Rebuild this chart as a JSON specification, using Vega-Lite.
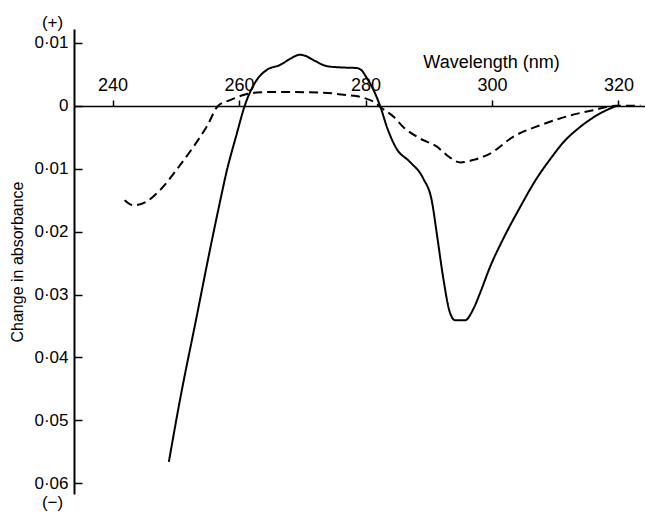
{
  "$schema": "https://vega.github.io/schema/vega-lite/v6.json",
  "width": 571,
  "height": 465,
  "autosize": {"type": "none"},
  "padding": {"left": 74, "top": 29, "right": 0, "bottom": 20},
  "background": "white",
  "config": {
    "view": {"stroke": null},
    "font": "Liberation Sans",
    "axis": {"grid": false, "domainColor": "black", "tickColor": "black", "labelColor": "black", "titleColor": "black", "titleFontWeight": "normal"}
  },
  "datasets": {
    "curves": [
      {"series": "solid", "wl": 248.9, "dA": -0.0566},
      {"series": "solid", "wl": 250.65, "dA": -0.0468},
      {"series": "solid", "wl": 253.3, "dA": -0.0335},
      {"series": "solid", "wl": 255.4, "dA": -0.0229},
      {"series": "solid", "wl": 257.0, "dA": -0.0152},
      {"series": "solid", "wl": 258.0, "dA": -0.0106},
      {"series": "solid", "wl": 259.6, "dA": -0.0046},
      {"series": "solid", "wl": 260.9, "dA": 0.0},
      {"series": "solid", "wl": 262.8, "dA": 0.0041},
      {"series": "solid", "wl": 264.4, "dA": 0.0057},
      {"series": "solid", "wl": 266.5, "dA": 0.0065},
      {"series": "solid", "wl": 268.0, "dA": 0.0074},
      {"series": "solid", "wl": 269.6, "dA": 0.0081},
      {"series": "solid", "wl": 270.6, "dA": 0.0079},
      {"series": "solid", "wl": 271.7, "dA": 0.0073},
      {"series": "solid", "wl": 273.9, "dA": 0.0063},
      {"series": "solid", "wl": 276.0, "dA": 0.0061},
      {"series": "solid", "wl": 278.6, "dA": 0.0060},
      {"series": "solid", "wl": 279.5, "dA": 0.0055},
      {"series": "solid", "wl": 279.9, "dA": 0.0049},
      {"series": "solid", "wl": 281.5, "dA": 0.0020},
      {"series": "solid", "wl": 282.3, "dA": 0.0},
      {"series": "solid", "wl": 283.5, "dA": -0.0037},
      {"series": "solid", "wl": 284.9, "dA": -0.0068},
      {"series": "solid", "wl": 287.0, "dA": -0.0089},
      {"series": "solid", "wl": 289.1, "dA": -0.0115},
      {"series": "solid", "wl": 290.5, "dA": -0.0152},
      {"series": "solid", "wl": 291.3, "dA": -0.0205},
      {"series": "solid", "wl": 292.3, "dA": -0.0274},
      {"series": "solid", "wl": 293.3, "dA": -0.0327},
      {"series": "solid", "wl": 294.2, "dA": -0.0341},
      {"series": "solid", "wl": 295.7, "dA": -0.0341},
      {"series": "solid", "wl": 297.1, "dA": -0.0322},
      {"series": "solid", "wl": 298.1, "dA": -0.0298},
      {"series": "solid", "wl": 299.7, "dA": -0.0256},
      {"series": "solid", "wl": 301.8, "dA": -0.0211},
      {"series": "solid", "wl": 304.4, "dA": -0.0162},
      {"series": "solid", "wl": 307.1, "dA": -0.0115},
      {"series": "solid", "wl": 309.2, "dA": -0.0085},
      {"series": "solid", "wl": 311.3, "dA": -0.0058},
      {"series": "solid", "wl": 313.9, "dA": -0.0034},
      {"series": "solid", "wl": 316.6, "dA": -0.0015},
      {"series": "solid", "wl": 319.7, "dA": 0.0},
      {"series": "dashed", "wl": 241.9, "dA": -0.0150},
      {"series": "dashed", "wl": 243.3, "dA": -0.0158},
      {"series": "dashed", "wl": 245.4, "dA": -0.0152},
      {"series": "dashed", "wl": 247.5, "dA": -0.0134},
      {"series": "dashed", "wl": 250.1, "dA": -0.0102},
      {"series": "dashed", "wl": 252.8, "dA": -0.0065},
      {"series": "dashed", "wl": 254.9, "dA": -0.0033},
      {"series": "dashed", "wl": 256.7, "dA": 0.0},
      {"series": "dashed", "wl": 258.6, "dA": 0.0009},
      {"series": "dashed", "wl": 260.7, "dA": 0.0017},
      {"series": "dashed", "wl": 262.8, "dA": 0.0021},
      {"series": "dashed", "wl": 266.5, "dA": 0.0022},
      {"series": "dashed", "wl": 272.8, "dA": 0.0021},
      {"series": "dashed", "wl": 277.0, "dA": 0.0017},
      {"series": "dashed", "wl": 279.6, "dA": 0.0013},
      {"series": "dashed", "wl": 281.5, "dA": 0.0005},
      {"series": "dashed", "wl": 282.6, "dA": -0.0004},
      {"series": "dashed", "wl": 284.4, "dA": -0.0017},
      {"series": "dashed", "wl": 286.0, "dA": -0.0034},
      {"series": "dashed", "wl": 288.6, "dA": -0.0052},
      {"series": "dashed", "wl": 291.3, "dA": -0.0065},
      {"series": "dashed", "wl": 292.8, "dA": -0.0078},
      {"series": "dashed", "wl": 295.0, "dA": -0.0090},
      {"series": "dashed", "wl": 297.1, "dA": -0.0086},
      {"series": "dashed", "wl": 299.7, "dA": -0.0076},
      {"series": "dashed", "wl": 303.4, "dA": -0.0049},
      {"series": "dashed", "wl": 307.6, "dA": -0.0031},
      {"series": "dashed", "wl": 311.8, "dA": -0.0017},
      {"series": "dashed", "wl": 316.0, "dA": -0.0007},
      {"series": "dashed", "wl": 319.7, "dA": 0.0},
      {"series": "dashed", "wl": 323.5, "dA": 0.0}
    ],
    "signs": [
      {"label": "(+)", "wl": 230.5, "dA": 0.0132},
      {"label": "(−)", "wl": 230.5, "dA": -0.0632}
    ]
  },
  "layer": [
    {
      "data": {"name": "curves"},
      "mark": {"type": "line", "color": "black", "strokeWidth": 2, "interpolate": "monotone", "clip": false},
      "encoding": {
        "x": {
          "field": "wl", "type": "quantitative",
          "scale": {"domain": [233.9, 324.2], "nice": false, "zero": false},
          "axis": {
            "orient": "top", "offset": -77, "values": [240, 260, 280, 300, 320],
            "tickSize": 6, "tickWidth": 1.5, "labelPadding": 6, "labelFontSize": 18,
            "domainWidth": 1.5, "title": "Wavelength (nm)", "titleFontSize": 18,
            "titleX": 417, "titleY": -44, "titleBaseline": "middle", "titleAnchor": null
          }
        },
        "y": {
          "field": "dA", "type": "quantitative",
          "scale": {"domain": [-0.0617, 0.0122], "nice": false, "zero": false},
          "axis": {
            "orient": "left", "values": [0.01, 0, -0.01, -0.02, -0.03, -0.04, -0.05, -0.06],
            "labelExpr": "abs(datum.value) < 1e-9 ? '0' : replace(format(abs(datum.value), '.2f'), '.', '·')",
            "tickSize": -8, "tickWidth": 1.5, "labelPadding": 14, "labelFontSize": 17,
            "domainWidth": 2, "title": "Change in absorbance", "titleFontSize": 16, "titlePadding": 8
          }
        },
        "strokeDash": {
          "field": "series", "type": "nominal",
          "scale": {"domain": ["solid", "dashed"], "range": [[1, 0], [9, 5]]},
          "legend": null
        }
      }
    },
    {
      "data": {"name": "signs"},
      "mark": {"type": "text", "fontSize": 17, "color": "black", "align": "center", "baseline": "middle", "clip": false},
      "encoding": {
        "x": {"field": "wl", "type": "quantitative"},
        "y": {"field": "dA", "type": "quantitative"},
        "text": {"field": "label"}
      }
    }
  ]
}
